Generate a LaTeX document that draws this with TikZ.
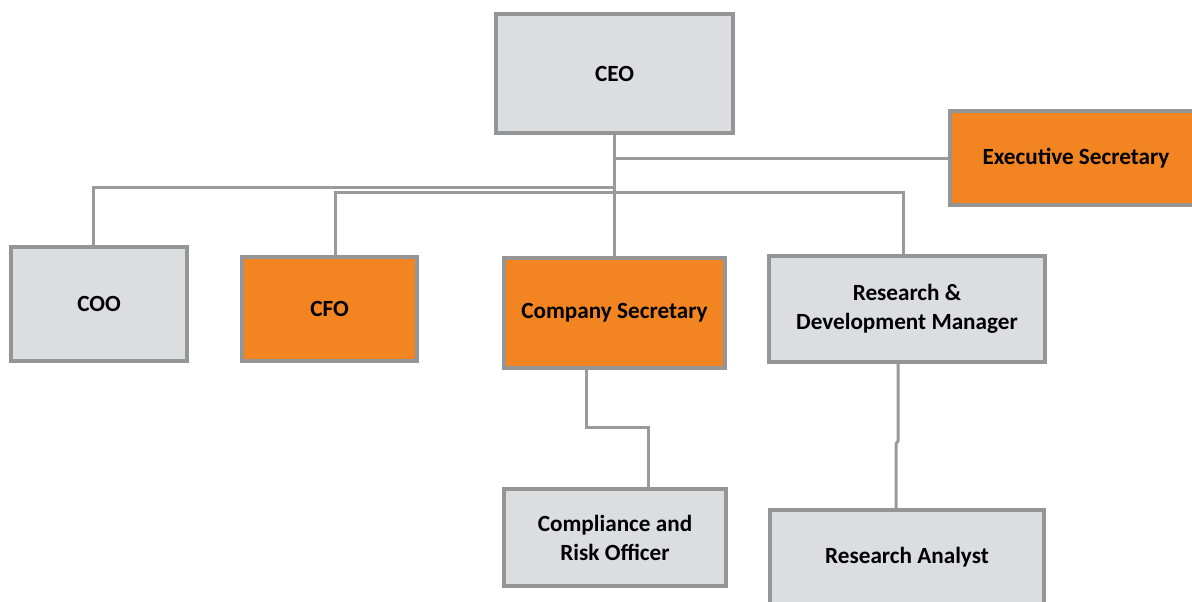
\documentclass[tikz,border=0pt]{standalone}
\usepackage{fontspec}
\setmainfont{Carlito}

\definecolor{postgray}{HTML}{DCDDDF}
\definecolor{postorange}{HTML}{F28522}
\definecolor{framegray}{HTML}{959595}
\definecolor{linkgray}{HTML}{9A9A9A}

\begin{document}
\begin{tikzpicture}[
    x=0.5pt, y=-0.5pt,
    post/.style={draw=framegray, line width=2pt, fill=postgray, inner sep=0pt,
        align=center, font=\fontsize{11.6}{14.5}\selectfont\bfseries},
    keypost/.style={post, fill=postorange},
    link/.style={draw=linkgray, line width=1.5pt}
]
\useasboundingbox (0,0) rectangle (1192,601);

% Top level
\node[post, minimum width=118.5pt, minimum height=59.5pt] (ceo) at (614.5,73.5) {CEO};
\node[keypost, minimum width=126pt, minimum height=47pt] (exec) at (1076,158) {Executive Secretary};

% Direct reports
\node[post, minimum width=88pt, minimum height=57pt] (coo) at (99,304) {COO};
\node[keypost, minimum width=87.5pt, minimum height=52pt] (cfo) at (329.5,309) {CFO};
\node[keypost, minimum width=110.5pt, minimum height=55pt] (cosec) at (614.5,313) {Company Secretary};
\node[post, minimum width=138pt, minimum height=53pt] (rnd) at (907,309) {Research \&\\Development Manager};

% Second level
\node[post, minimum width=111pt, minimum height=48.5pt] (comp) at (615,537.5) {Compliance and\\Risk Officer};
\node[post, minimum width=137pt, minimum height=47pt] (analyst) at (907,557) {Research Analyst};

% Reporting lines
\draw[link] (ceo.south) -- (cosec.north);
\draw[link] (ceo.south |- exec.west) -- (exec.west);
\draw[link] ([xshift=-3pt]coo.north) -- ++(0,-58) -- ++(521.5,0);
\draw[link] ([xshift=3pt]cfo.north) -- ++(0,-63) -| ([xshift=-2pt]rnd.north);
\draw[link] ([xshift=-14.25pt]cosec.south) -- ++(0,57) -| ([xshift=16.5pt]comp.north);
\draw[link] ([xshift=-4.5pt]rnd.south) -- ++(0,77) -- ++(-2,3) -- ([xshift=-5.5pt]analyst.north);

\end{tikzpicture}
\end{document}
